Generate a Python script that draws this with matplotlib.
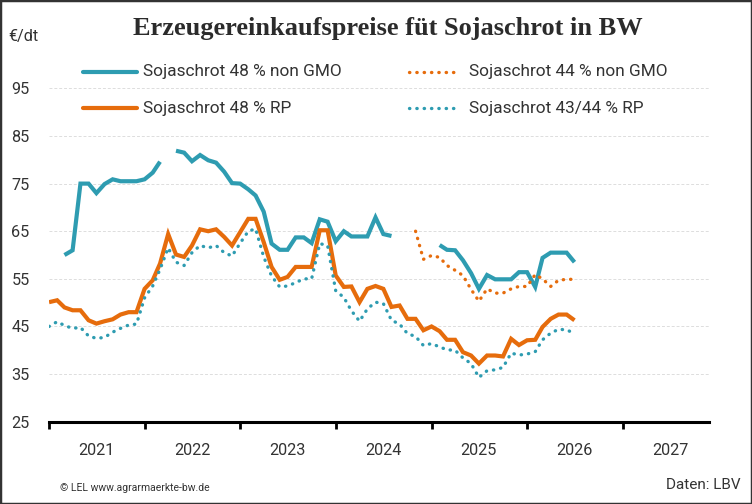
import numpy as np
import pandas as pd
import matplotlib
matplotlib.use("Agg")
from matplotlib import pyplot as plt
from matplotlib.lines import Line2D
from matplotlib.patches import Rectangle
import matplotlib.dates as mdates

## Daten (Monatswerte ab Jan 2021, €/dt)
months = pd.date_range("2021-01-01", periods=67, freq="MS")
nan = np.nan

# Sojaschrot 48 % non GMO
non_gmo_48 = [nan, nan, 60.0, 61.0, 75.0, 75.0, 73.0, 74.9, 75.9, 75.5, 75.5, 75.5,
              75.9, 77.3, 79.6, nan, 81.9, 81.5, 79.7, 81.0, 79.9, 79.4, 77.5, 75.1,
              75.0, 73.8, 72.5, 69.1, 62.4, 61.1, 61.1, 63.7, 63.7, 62.5, 67.5, 67.0,
              62.9, 65.0, 63.9, 63.9, 63.9, 67.9, 64.4, 64.0, nan, nan, nan, nan,
              nan, 62.1, 61.1, 61.0, 58.9, 56.2, 52.9, 55.8, 54.9, 54.9, 54.9, 56.4,
              56.4, 53.3, 59.4, 60.5, 60.5, 60.5, 58.5]
# Sojaschrot 44 % non GMO
non_gmo_44 = [nan] * 46 + [65.0, 59.1, 59.9, 59.5, 57.8, 56.8, 55.7, 52.8, 50.3, 52.9,
                           52.0, 52.0, 52.9, 53.4, 53.4, 55.9, 55.0, 53.4, 54.7, 54.9, 54.9]
# Sojaschrot 48 % RP
rp_48 = [50.1, 50.5, 49.0, 48.4, 48.4, 46.3, 45.6, 46.1, 46.5, 47.5, 48.0, 48.0,
         52.9, 54.7, 58.2, 64.4, 60.1, 59.6, 62.0, 65.4, 65.0, 65.4, 63.8, 62.0,
         64.8, 67.6, 67.6, 62.7, 57.5, 54.8, 55.4, 57.5, 57.5, 57.5, 65.2, 65.2,
         55.7, 53.3, 53.4, 50.1, 52.9, 53.5, 52.9, 49.1, 49.4, 46.6, 46.6, 44.2,
         45.0, 44.0, 42.2, 42.2, 39.6, 38.9, 37.2, 38.9, 38.9, 38.7, 42.4, 41.1,
         42.1, 42.2, 44.9, 46.6, 47.5, 47.5, 46.3]
# Sojaschrot 43/44 % RP
rp_43 = [45.0, 46.0, 45.2, 44.6, 44.8, 43.0, 42.5, 42.7, 43.8, 44.6, 45.3, 45.5,
         51.0, 53.5, 57.0, 61.5, 58.5, 57.8, 60.5, 62.0, 61.5, 62.0, 60.5, 59.8,
         62.5, 65.0, 65.5, 59.6, 55.6, 53.3, 53.5, 54.2, 55.0, 55.0, 62.4, 62.0,
         52.5, 51.1, 48.3, 46.1, 48.7, 50.1, 49.8, 46.3, 45.5, 43.5, 42.9, 41.0,
         41.4, 40.7, 40.1, 40.0, 38.4, 37.2, 34.3, 35.7, 35.9, 36.4, 39.4, 39.0,
         39.2, 39.7, 42.2, 43.6, 44.4, 44.3, 43.5]

years = list(range(2021, 2028))
y_ticks = [25, 35, 45, 55, 65, 75, 85, 95]

BLUE = '#2e9cb1'
ORANGE = '#e66c0c'
TXT = '#333333'

plt.rcParams['font.family'] = ['Roboto', 'DejaVu Sans']

fig = plt.figure(figsize=(7.52, 5.04), dpi=100)
ax = fig.add_axes([0.0652, 0.1633, 0.8777, 0.7086])

dots = (0, (0.1, 2.1))
ax.plot(months, non_gmo_48, color=BLUE, lw=3, solid_capstyle='butt', solid_joinstyle='miter')
ax.plot(months, rp_48, color=ORANGE, lw=3, solid_capstyle='butt', solid_joinstyle='miter')
ax.plot(months, non_gmo_44, color=ORANGE, lw=2.4, linestyle=dots, dash_capstyle='round')
ax.plot(months, rp_43, color=BLUE, lw=2.4, linestyle=dots, dash_capstyle='round')

ax.set_ylim(25, 100)
ax.set_xlim(pd.Timestamp("2021-01-01"), pd.Timestamp("2027-11-27"))
ax.set_yticks(y_ticks)
ax.yaxis.grid(True, color='#dddddd', linestyle=(0, (3, 2)), lw=0.7)
ax.set_axisbelow(True)

ax.xaxis.set_major_locator(mdates.YearLocator())
ax.xaxis.set_major_formatter(plt.NullFormatter())
ax.set_xticks([pd.Timestamp(f"{y}-07-01") for y in years], minor=True)
ax.set_xticklabels([str(y) for y in years], minor=True)
ax.tick_params(axis='x', which='major', length=5, width=2, color='black', direction='out')
ax.tick_params(axis='x', which='minor', length=0, pad=15, labelsize=11.7, labelcolor=TXT)
ax.tick_params(axis='y', length=0, pad=14, labelsize=11.7, labelcolor=TXT)

for s in ['top', 'right', 'left']:
    ax.spines[s].set_visible(False)
ax.spines['bottom'].set_linewidth(2.2)
ax.spines['bottom'].set_color('black')

## Titel, Legende, Fußzeile
W, H = 752.0, 504.0
fig.text(388 / W, 1 - 28 / H, 'Erzeugereinkaufspreise füt Sojaschrot in BW', ha='center', va='center',
         family=['Liberation Serif', 'DejaVu Serif'], fontweight='bold', fontsize=19, color='#2b2b2b')
fig.text(8 / W, 1 - 37 / H, '€/dt', ha='left', va='center', fontsize=11.7, color=TXT)

legend = [(83, 137, 143, 72, BLUE, '-', 'Sojaschrot 48 % non GMO'),
          (83, 137, 143, 108, ORANGE, '-', 'Sojaschrot 48 % RP'),
          (409, 459, 469, 72, ORANGE, ':', 'Sojaschrot 44 % non GMO'),
          (409, 459, 469, 108, BLUE, ':', 'Sojaschrot 43/44 % RP')]
for x1, x2, xt, yy, col, ls, lab in legend:
    if ls == '-':
        fig.add_artist(Line2D([x1 / W, x2 / W], [1 - yy / H] * 2, transform=fig.transFigure,
                              color=col, lw=3, solid_capstyle='round'))
    else:
        fig.add_artist(Line2D([x1 / W, x2 / W], [1 - yy / H] * 2, transform=fig.transFigure,
                              color=col, lw=2.4, linestyle=dots, dash_capstyle='round'))
    fig.text(xt / W, 1 - yy / H, lab, ha='left', va='center', fontsize=12.4, color=TXT)

fig.text(60 / W, 1 - 488 / H, '© LEL www.agrarmaerkte-bw.de', ha='left', va='center',
         fontsize=7.5, color=TXT, fontstretch='condensed')
fig.text(741 / W, 1 - 485 / H, 'Daten: LBV', ha='right', va='center', fontsize=11, color=TXT)

fig.add_artist(Rectangle((0, 0), 1, 1, transform=fig.transFigure, fill=False, lw=2.5, ec='#333333'))

fig.savefig('out.png', dpi=100)
